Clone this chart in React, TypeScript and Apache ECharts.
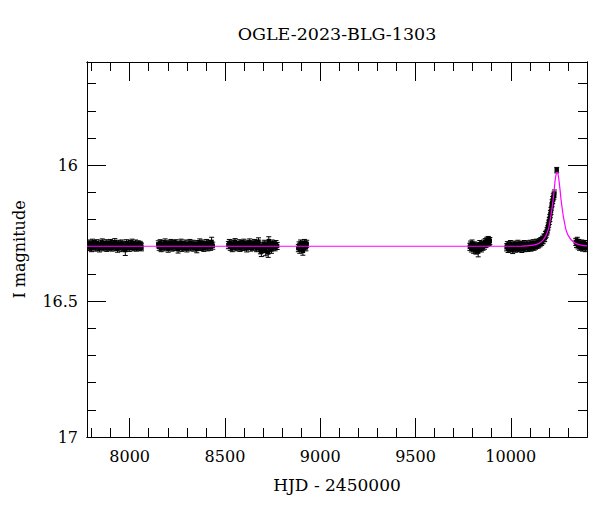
import React, { useEffect, useRef } from "react";
import * as echarts from "echarts";

// ---- Data (HJD - 2450000, I mag, error) ----
const season1: [number, number, number][] = [
  [7782, 16.296, 0.013], [7787, 16.288, 0.013], [7791, 16.301, 0.013], [7796, 16.292, 0.013],
  [7800, 16.305, 0.013], [7805, 16.285, 0.013], [7810, 16.298, 0.013], [7814, 16.29, 0.013],
  [7819, 16.303, 0.013], [7823, 16.294, 0.013], [7828, 16.287, 0.013], [7833, 16.3, 0.013],
  [7838, 16.296, 0.013], [7842, 16.306, 0.013], [7847, 16.289, 0.013], [7852, 16.297, 0.013],
  [7856, 16.284, 0.013], [7861, 16.302, 0.013], [7866, 16.293, 0.013], [7870, 16.299, 0.013],
  [7875, 16.287, 0.013], [7880, 16.304, 0.013], [7885, 16.295, 0.013], [7889, 16.291, 0.013],
  [7894, 16.3, 0.013], [7899, 16.286, 0.013], [7903, 16.297, 0.013], [7908, 16.303, 0.013],
  [7913, 16.29, 0.013], [7917, 16.296, 0.013], [7922, 16.283, 0.013], [7927, 16.301, 0.013],
  [7931, 16.294, 0.013], [7936, 16.307, 0.013], [7941, 16.289, 0.013], [7945, 16.298, 0.013],
  [7950, 16.292, 0.013], [7955, 16.305, 0.013], [7960, 16.288, 0.013], [7964, 16.296, 0.013],
  [7969, 16.301, 0.013], [7977, 16.312, 0.02], [7980, 16.293, 0.013], [7984, 16.287, 0.013],
  [7989, 16.299, 0.013], [7994, 16.295, 0.013], [7998, 16.304, 0.013], [8003, 16.29, 0.013],
  [8008, 16.297, 0.013], [8012, 16.285, 0.013], [8017, 16.302, 0.013], [8022, 16.294, 0.013],
  [8027, 16.299, 0.013], [8031, 16.288, 0.013], [8036, 16.303, 0.013], [8041, 16.296, 0.013],
  [8045, 16.291, 0.013], [8050, 16.3, 0.013], [8055, 16.293, 0.013], [8059, 16.297, 0.013],
  [8062, 16.302, 0.013],
];

const season2: [number, number, number][] = [
  [8150, 16.291, 0.013], [8155, 16.3, 0.013], [8160, 16.287, 0.013], [8165, 16.305, 0.013],
  [8170, 16.296, 0.013], [8176, 16.29, 0.013], [8181, 16.302, 0.013], [8186, 16.284, 0.013],
  [8191, 16.298, 0.013], [8196, 16.293, 0.013], [8202, 16.307, 0.013], [8207, 16.289, 0.013],
  [8212, 16.299, 0.013], [8217, 16.286, 0.013], [8222, 16.303, 0.013], [8228, 16.295, 0.013],
  [8233, 16.29, 0.013], [8238, 16.301, 0.013], [8243, 16.287, 0.013], [8248, 16.296, 0.013],
  [8254, 16.309, 0.014], [8259, 16.292, 0.013], [8264, 16.298, 0.013], [8269, 16.285, 0.013],
  [8274, 16.304, 0.013], [8280, 16.294, 0.013], [8285, 16.3, 0.013], [8290, 16.288, 0.013],
  [8295, 16.297, 0.013], [8300, 16.306, 0.013], [8306, 16.291, 0.013], [8311, 16.299, 0.013],
  [8316, 16.286, 0.013], [8321, 16.302, 0.013], [8326, 16.295, 0.013], [8332, 16.289, 0.013],
  [8337, 16.303, 0.013], [8342, 16.297, 0.013], [8347, 16.292, 0.013], [8352, 16.308, 0.014],
  [8358, 16.29, 0.013], [8363, 16.298, 0.013], [8368, 16.284, 0.013], [8373, 16.301, 0.013],
  [8378, 16.296, 0.013], [8384, 16.288, 0.013], [8389, 16.304, 0.013], [8394, 16.293, 0.013],
  [8399, 16.299, 0.013], [8404, 16.286, 0.013], [8410, 16.302, 0.013], [8415, 16.295, 0.013],
  [8420, 16.29, 0.013], [8425, 16.3, 0.013], [8430, 16.282, 0.017], [8436, 16.296, 0.013],
];

const season3: [number, number, number][] = [
  [8518, 16.294, 0.013], [8523, 16.286, 0.013], [8528, 16.3, 0.013], [8533, 16.291, 0.013],
  [8538, 16.305, 0.013], [8543, 16.288, 0.013], [8548, 16.297, 0.013], [8553, 16.283, 0.013],
  [8558, 16.302, 0.013], [8563, 16.293, 0.013], [8568, 16.299, 0.013], [8574, 16.287, 0.013],
  [8579, 16.304, 0.013], [8584, 16.295, 0.013], [8589, 16.29, 0.013], [8594, 16.301, 0.013],
  [8599, 16.285, 0.013], [8604, 16.298, 0.013], [8609, 16.293, 0.013], [8614, 16.306, 0.013],
  [8620, 16.289, 0.013], [8625, 16.296, 0.013], [8630, 16.284, 0.013], [8635, 16.303, 0.013],
  [8640, 16.297, 0.013], [8645, 16.291, 0.013], [8650, 16.3, 0.013], [8655, 16.286, 0.013],
  [8660, 16.294, 0.013], [8666, 16.305, 0.013], [8671, 16.29, 0.013], [8676, 16.281, 0.014],
  [8681, 16.299, 0.013], [8686, 16.312, 0.014], [8691, 16.318, 0.018], [8696, 16.296, 0.013],
  [8701, 16.307, 0.013], [8706, 16.289, 0.013], [8712, 16.315, 0.018], [8717, 16.3, 0.013],
  [8722, 16.292, 0.013], [8727, 16.321, 0.018], [8730, 16.279, 0.016], [8735, 16.303, 0.013],
  [8739, 16.295, 0.013], [8744, 16.31, 0.014], [8748, 16.288, 0.013], [8753, 16.299, 0.013],
  [8758, 16.293, 0.013], [8763, 16.302, 0.013], [8768, 16.29, 0.013], [8774, 16.297, 0.013],
];

const season4: [number, number, number][] = [
  [8885, 16.305, 0.013], [8889, 16.295, 0.013], [8893, 16.31, 0.014], [8897, 16.288, 0.013],
  [8901, 16.3, 0.013], [8905, 16.292, 0.013], [8909, 16.315, 0.016], [8913, 16.298, 0.013],
  [8917, 16.286, 0.013], [8921, 16.294, 0.013], [8925, 16.302, 0.013], [8929, 16.289, 0.013],
];

const season5: [number, number, number][] = [
  [9785, 16.3, 0.013], [9789, 16.292, 0.013], [9793, 16.306, 0.013], [9797, 16.288, 0.013],
  [9801, 16.297, 0.013], [9805, 16.31, 0.014], [9809, 16.295, 0.013], [9813, 16.302, 0.013],
  [9817, 16.312, 0.015], [9821, 16.308, 0.013], [9825, 16.298, 0.013], [9829, 16.318, 0.019],
  [9833, 16.304, 0.013], [9837, 16.29, 0.013], [9842, 16.299, 0.013], [9846, 16.306, 0.013],
  [9850, 16.294, 0.013], [9854, 16.3, 0.013], [9858, 16.288, 0.013], [9862, 16.296, 0.013],
  [9866, 16.283, 0.013], [9870, 16.29, 0.013], [9874, 16.278, 0.013], [9878, 16.285, 0.013],
  [9882, 16.276, 0.014], [9886, 16.282, 0.013], [9890, 16.279, 0.013],
];

const season6: [number, number, number][] = [
  [9978, 16.302, 0.013], [9982, 16.294, 0.013], [9986, 16.308, 0.013], [9990, 16.297, 0.013],
  [9994, 16.303, 0.013], [9998, 16.29, 0.013], [10002, 16.306, 0.013], [10006, 16.299, 0.013],
  [10010, 16.311, 0.014], [10014, 16.295, 0.013], [10018, 16.301, 0.013], [10022, 16.292, 0.013],
  [10026, 16.307, 0.013], [10030, 16.298, 0.013], [10034, 16.303, 0.013], [10038, 16.289, 0.013],
  [10042, 16.305, 0.013], [10046, 16.296, 0.013], [10050, 16.3, 0.013], [10054, 16.293, 0.013],
  [10058, 16.308, 0.013], [10062, 16.297, 0.013], [10066, 16.302, 0.013], [10070, 16.29, 0.013],
  [10074, 16.305, 0.013], [10078, 16.295, 0.013], [10082, 16.299, 0.013], [10086, 16.291, 0.013],
  [10090, 16.304, 0.013], [10094, 16.296, 0.013], [10098, 16.3, 0.013], [10102, 16.289, 0.013],
  [10106, 16.303, 0.013], [10110, 16.294, 0.013], [10114, 16.298, 0.013], [10118, 16.287, 0.013],
  [10122, 16.3, 0.013], [10126, 16.292, 0.013], [10130, 16.296, 0.013], [10134, 16.285, 0.013],
  [10138, 16.293, 0.013], [10142, 16.288, 0.013], [10146, 16.291, 0.013], [10150, 16.283, 0.013],
  [10154, 16.287, 0.013], [10158, 16.279, 0.013], [10162, 16.282, 0.013], [10166, 16.274, 0.013],
  [10170, 16.276, 0.013], [10174, 16.266, 0.013], [10178, 16.268, 0.013], [10182, 16.257, 0.013],
  [10186, 16.252, 0.013], [10190, 16.243, 0.013], [10193, 16.236, 0.013], [10196, 16.225, 0.013],
  [10199, 16.215, 0.013], [10202, 16.205, 0.013], [10205, 16.194, 0.013], [10208, 16.18, 0.013],
  [10211, 16.168, 0.013], [10214, 16.152, 0.013], [10217, 16.14, 0.013], [10220, 16.128, 0.013],
  [10223, 16.118, 0.013], [10226, 16.112, 0.013], [10229, 16.104, 0.013], [10241, 16.018, 0.01],
];

const season7: [number, number, number][] = [
  [10341, 16.282, 0.013], [10345, 16.29, 0.013], [10349, 16.278, 0.013], [10353, 16.295, 0.013],
  [10357, 16.286, 0.013], [10361, 16.3, 0.013], [10365, 16.291, 0.013], [10369, 16.297, 0.013],
  [10373, 16.288, 0.013], [10377, 16.303, 0.013], [10381, 16.294, 0.013], [10385, 16.299, 0.013],
  [10389, 16.29, 0.013], [10393, 16.305, 0.013], [10397, 16.296, 0.013],
];

// Model fit curve
const fitCurve: [number, number][] = [
  [7776, 16.298], [10050, 16.298], [10082, 16.297], [10110, 16.295], [10135, 16.291],
  [10155, 16.284], [10170, 16.275], [10185, 16.258], [10196, 16.238], [10203, 16.218],
  [10208, 16.195], [10215, 16.165], [10222, 16.128], [10227, 16.098], [10231, 16.066],
  [10235, 16.045], [10239, 16.03], [10243, 16.025], [10247, 16.03], [10251, 16.045],
  [10255, 16.068], [10260, 16.1], [10264, 16.128], [10270, 16.16], [10276, 16.189],
  [10283, 16.215], [10290, 16.238], [10300, 16.257], [10310, 16.268], [10318, 16.275],
  [10335, 16.285], [10353, 16.291], [10375, 16.295], [10400, 16.297],
];

// Tick values
const xMajorTicks = [8000, 8500, 9000, 9500, 10000];
const xMinorTicks = [7800, 7900, 8100, 8200, 8300, 8400, 8600, 8700, 8800, 8900, 9100, 9200, 9300, 9400, 9600, 9700, 9800, 9900, 10100, 10200, 10300];
const yMajorTicks = [16, 16.5, 17];
const yMinorTicks = [15.7, 15.8, 15.9, 16.1, 16.2, 16.3, 16.4, 16.6, 16.7, 16.8, 16.9];

const X_MIN = 7776;
const X_MAX = 10400;
const Y_MIN = 15.62;
const Y_MAX = 17;

const FONT = "DejaVu Serif";

export default function App() {
  const ref = useRef<HTMLDivElement>(null);

  useEffect(() => {
    if (!ref.current) return;
    const chart = echarts.init(ref.current, null, { renderer: "svg" });

    const points = [...season1, ...season2, ...season3, ...season4, ...season5, ...season6, ...season7];
    const line = { color: "#000", width: 1 };

    const mkX = (pos: "top" | "bottom", ticks: number[], len: number, labels: boolean, name?: string) => ({
      type: "value",
      gridIndex: 0,
      min: X_MIN,
      max: X_MAX,
      position: pos,
      axisLine: { show: true, onZero: false, lineStyle: line },
      axisTick: { show: true, inside: true, length: len, customValues: ticks, lineStyle: line },
      axisLabel: labels
        ? {
            show: true,
            customValues: ticks,
            margin: 11,
            color: "#000",
            fontFamily: FONT,
            fontSize: 16,
            formatter: (v: number) => String(v),
          }
        : { show: false },
      splitLine: { show: false },
      minorTick: { show: false },
      name: name,
      nameLocation: "middle",
      nameGap: 39,
      nameTextStyle: { color: "#000", fontFamily: FONT, fontSize: 17 },
    });

    const mkY = (pos: "left" | "right", ticks: number[], len: number, labels: boolean, name?: string) => ({
      type: "value",
      gridIndex: 0,
      inverse: true,
      min: Y_MIN,
      max: Y_MAX,
      position: pos,
      axisLine: { show: true, onZero: false, lineStyle: line },
      axisTick: { show: true, inside: true, length: len, customValues: ticks, lineStyle: line },
      axisLabel: labels
        ? {
            show: true,
            customValues: ticks,
            margin: 9,
            color: "#000",
            fontFamily: FONT,
            fontSize: 16,
            formatter: (v: number) => String(v),
          }
        : { show: false },
      splitLine: { show: false },
      minorTick: { show: false },
      name: name,
      nameLocation: "middle",
      nameRotate: 90,
      nameGap: 60,
      nameTextStyle: { color: "#000", fontFamily: FONT, fontSize: 16 },
    });

    chart.setOption({
      animation: false,
      backgroundColor: "#fff",
      title: {
        text: "OGLE-2023-BLG-1303",
        left: 337,
        top: 25,
        padding: 0,
        textAlign: "center",
        textStyle: { color: "#000", fontFamily: FONT, fontSize: 17.5, fontWeight: "normal" },
      },
      grid: { left: 87, right: 13, top: 62, bottom: 75, containLabel: false },
      xAxis: [
        mkX("bottom", xMajorTicks, 19, true, "HJD - 2450000"),
        mkX("bottom", xMinorTicks, 9, false),
        mkX("top", xMajorTicks, 19, false),
        mkX("top", xMinorTicks, 9, false),
      ],
      yAxis: [
        mkY("left", yMajorTicks, 19, true, "I magnitude"),
        mkY("left", yMinorTicks, 9, false),
        mkY("right", yMajorTicks, 19, false),
        mkY("right", yMinorTicks, 9, false),
      ],
      series: [
        {
          type: "custom",
          name: "OGLE I",
          xAxisIndex: 0,
          yAxisIndex: 0,
          clip: true,
          encode: { x: 0, y: 1 },
          data: points,
          z: 2,
          renderItem: (params: any, api: any) => {
            const t = api.value(0);
            const m = api.value(1);
            const e = api.value(2);
            const c = api.coord([t, m]);
            const hi = api.coord([t, m - e]);
            const lo = api.coord([t, m + e]);
            const cap = 2.5;
            const st = { stroke: "#000", lineWidth: 1 };
            return {
              type: "group",
              children: [
                { type: "line", shape: { x1: c[0], y1: hi[1], x2: c[0], y2: lo[1] }, style: st },
                { type: "line", shape: { x1: c[0] - cap, y1: hi[1], x2: c[0] + cap, y2: hi[1] }, style: st },
                { type: "line", shape: { x1: c[0] - cap, y1: lo[1], x2: c[0] + cap, y2: lo[1] }, style: st },
                { type: "rect", shape: { x: c[0] - 2.2, y: c[1] - 2.2, width: 4.4, height: 4.4 }, style: { fill: "#000" } },
              ],
            };
          },
        },
        {
          type: "line",
          name: "model",
          xAxisIndex: 0,
          yAxisIndex: 0,
          data: fitCurve,
          showSymbol: false,
          symbol: "none",
          smooth: 0.2,
          lineStyle: { color: "#ff00ff", width: 1.2 },
          z: 5,
        },
      ],
    });

    return () => chart.dispose();
  }, []);

  return (
    <div
      ref={ref}
      style={{ position: "absolute", left: 0, top: 0, width: 600, height: 512, background: "#fff" }}
    />
  );
}
